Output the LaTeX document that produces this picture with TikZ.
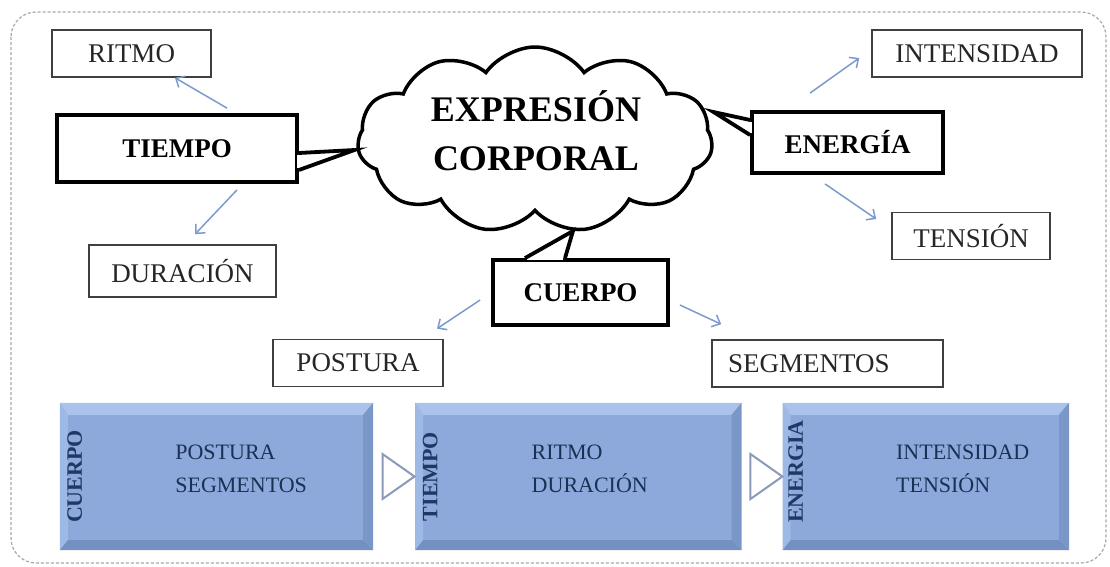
\documentclass[tikz,border=0pt]{standalone}
\usepackage{fontspec}
\setmainfont{Liberation Serif}
\usetikzlibrary{positioning}
\usetikzlibrary{shapes.symbols,shapes.geometric}
\usetikzlibrary{calc,arrows.meta}

\definecolor{flechaazul}{HTML}{7A9BCB}
\definecolor{bloqueazul}{HTML}{8DA9DB}
\definecolor{biselclaro}{HTML}{A9C3EC}
\definecolor{biseloscuro}{HTML}{7490C0}
\definecolor{textoazul}{HTML}{1F3864}
\definecolor{bordegris}{HTML}{A8A8A8}
\definecolor{trianguloazul}{HTML}{8A9AB8}

\tikzset{
  etiqueta/.style={draw=black!75, line width=1.6pt, inner sep=0pt, text=black!85,
    font=\fontsize{27}{30}\selectfont, minimum height=47pt},
  llamada/.style={draw=black, line width=3.8pt, inner sep=0pt,
    font=\bfseries\fontsize{27}{30}\selectfont},
  punta/.style={draw=black, line width=3.8pt, fill=white},
  flecha/.style={-{Straight Barb[length=7pt,width=13pt]}, draw=flechaazul, line width=1.5pt},
  bloque/.style={fill=bloqueazul, minimum height=147pt, inner sep=0pt},
  vertical/.style={rotate=90, text=textoazul, font=\bfseries\fontsize{22}{24}\selectfont},
  contenido/.style={anchor=west, align=left, text=textoazul!85!black,
    font=\fontsize{22}{33}\selectfont},
  triangulo/.style={isosceles triangle, isosceles triangle stretches, draw=trianguloazul,
    line width=2pt, fill=white, minimum width=45pt, minimum height=32pt, inner sep=0pt},
}

\begin{document}
\begin{tikzpicture}[x=1pt, y=-1pt]
    \useasboundingbox (0,0) rectangle (1110,566);
    \draw[bordegris, line width=1.2pt, dash pattern=on 3pt off 2pt, rounded corners=25pt]
      (11,12) rectangle (1106,563);

    % nube central
    \node[cloud, draw, line width=3.5pt, cloud puffs=11, cloud puff arc=110, aspect=1.9,
      minimum width=355pt, minimum height=186pt, inner sep=0pt] (nube) at (535,140) {};
    \node[align=center, font=\bfseries\fontsize{36}{49}\selectfont] (titulo) at (536,131)
      {EXPRESIÓN\\CORPORAL};

    % llamadas
    \node[llamada, minimum width=240pt, minimum height=67pt] (tiempo) at (177,148.5) {TIEMPO};
    \fill[white] ([shift={(-2.2pt,-6.5pt)}]tiempo.east) rectangle ([shift={(2.2pt,-19.5pt)}]tiempo.east);
    \draw[punta] ([yshift=-4.5pt]tiempo.east) -- ([shift={(-2pt,-10pt)}]nube.west) -- ([yshift=-21.5pt]tiempo.east);

    \node[llamada, minimum width=191pt, minimum height=61pt] (energia) at (847.5,142.5) {ENERGÍA};
    \fill[white] ([shift={(-2.2pt,20.5pt)}]energia.west) rectangle ([shift={(2.2pt,9.5pt)}]energia.west);
    \draw[punta] ([yshift=22.5pt]energia.west) -- ([yshift=28pt]nube.east) -- ([yshift=7.5pt]energia.west);

    \node[llamada, minimum width=175pt, minimum height=65pt] (cuerpo) at (580.5,292.5) {CUERPO};
    \fill[white] ([shift={(-53.5pt,-2.2pt)}]cuerpo.north) rectangle ([shift={(-17.5pt,2.2pt)}]cuerpo.north);
    \draw[punta] ([xshift=-55.5pt]cuerpo.north) -- ([shift={(38pt,-91pt)}]nube.center) -- ([xshift=-15.5pt]cuerpo.north);

    % etiquetas
    \node[etiqueta, minimum width=159pt] (ritmo) at (131.5,53.5) {RITMO};
    \node[etiqueta, minimum width=187pt, minimum height=52pt] (duracion) at (182.5,271) {DURACIÓN};
    \node[etiqueta, minimum width=210pt] (intensidad) at (977,53.5) {INTENSIDAD};
    \node[etiqueta, minimum width=158pt] (tension) at (971,236) {TENSIÓN};
    \node[etiqueta, minimum width=170pt] (postura) at (358,363) {POSTURA};
    \node[etiqueta, text width=199pt, inner xsep=16pt, align=left] (segmentos) at (827.5,363.5) {SEGMENTOS};

    \draw[flecha] ([xshift=50pt,yshift=5pt]tiempo.north) -- ([xshift=43.5pt]ritmo.south);
    \draw[flecha] ([xshift=60pt,yshift=-6pt]tiempo.south) -- ([xshift=12.5pt,yshift=10pt]duracion.north);
    \draw[flecha] ([xshift=-37.5pt,yshift=17pt]energia.north) -- ([xshift=-12pt,yshift=-4.5pt]intensidad.west);
    \draw[flecha] ([xshift=-22.5pt,yshift=-9pt]energia.south) -- ([xshift=-15pt,yshift=17pt]tension.west);
    \draw[flecha] ([xshift=-11pt,yshift=-7.5pt]cuerpo.west) -- ([xshift=79pt,yshift=10pt]postura.north);
    \draw[flecha] ([xshift=10pt,yshift=-12.5pt]cuerpo.east) -- ([xshift=10pt,yshift=15pt]segmentos.north west);

    % bloques inferiores
    \node[bloque, minimum width=313pt] (b1) at (216.5,476.5) {};
    \node[bloque, minimum width=326pt, right=42pt of b1] (b2) {};
    \node[bloque, minimum width=286pt, right=41pt of b2] (b3) {};
    \foreach \b in {b1,b2,b3}{
      \fill[biselclaro] (\b.north west) -- (\b.north east) -- ([shift={(-10pt,-12pt)}]\b.north east)
        -- ([shift={(8pt,-12pt)}]\b.north west) -- cycle;
      \fill[biselclaro!60!bloqueazul] (\b.north west) -- ([shift={(8pt,-12pt)}]\b.north west)
        -- ([shift={(8pt,10pt)}]\b.south west) -- (\b.south west) -- cycle;
      \fill[biseloscuro] (\b.south west) -- ([shift={(8pt,10pt)}]\b.south west)
        -- ([shift={(-10pt,10pt)}]\b.south east) -- (\b.south east) -- cycle;
      \fill[biseloscuro!70!bloqueazul] (\b.north east) -- ([shift={(-10pt,-12pt)}]\b.north east)
        -- ([shift={(-10pt,10pt)}]\b.south east) -- (\b.south east) -- cycle;
    }
    \node[triangulo] (f1) at ($(b1.east)!0.5!(b2.west)$) {};
    \node[triangulo] (f2) at ($(b2.east)!0.5!(b3.west)$) {};

    \node[vertical] (v1) at ([xshift=15pt]b1.west) {CUERPO};
    \node[vertical] (v2) at ([xshift=15pt]b2.west) {TIEMPO};
    \node[vertical] (v3) at ([xshift=13pt,yshift=5pt]b3.west) {ENERGIA};
    \node[contenido] (c1) at ([xshift=112pt,yshift=8pt]b1.west) {POSTURA\\SEGMENTOS};
    \node[contenido] (c2) at ([xshift=113pt,yshift=8pt]b2.west) {RITMO\\DURACIÓN};
    \node[contenido] (c3) at ([xshift=110pt,yshift=8pt]b3.west) {INTENSIDAD\\TENSIÓN};

  \end{tikzpicture}
\end{document}
